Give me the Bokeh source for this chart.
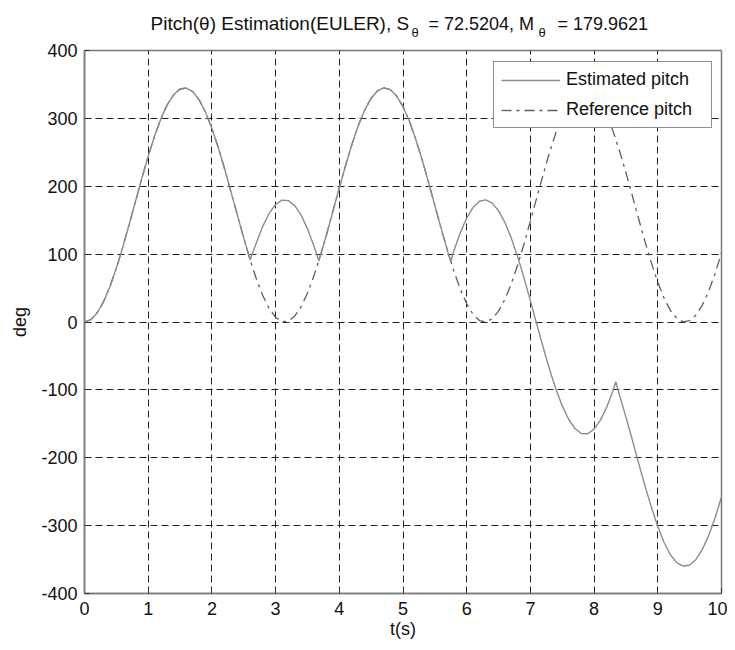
from bokeh.plotting import figure
from bokeh.layouts import column
from bokeh.models import Range1d, FixedTicker, Legend, LegendItem
from bokeh.core.properties import value
from bokeh.embed import file_html
from bokeh.resources import INLINE

# ---------------- data ----------------
x_ticks = [0, 1, 2, 3, 4, 5, 6, 7, 8, 9, 10]
y_ticks = [-400, -300, -200, -100, 0, 100, 200, 300, 400]

ref_t = [i / 10 for i in range(101)]
ref_v = [0, 3.4, 13.6, 30.1, 52.3, 79.3, 110.0, 143.2, 177.5, 211.7, 244.3, 274.0, 299.6, 320.3, 335.0,
         343.3, 344.7, 339.3, 327.3, 309.0, 285.3, 257.1, 225.5, 191.8, 157.5, 123.5, 91.7, 62.9, 38.7,
         19.7, 6.9, 0.5, 1.2, 8.5, 22.6, 42.4, 67.6, 96.8, 128.9, 163.2, 197.7, 231.2, 262.2, 289.8,
         312.4, 329.6, 340.7, 345.0, 342.4, 332.9, 317.2, 295.8, 269.3, 239.1, 206.0, 171.7, 137.5,
         104.7, 74.5, 48.3, 26.9, 11.2, 2.1, 0.0, 4.8, 16.0, 33.5, 56.4, 84.0, 114.9, 148.9, 183.2,
         217.2, 249.6, 278.7, 303.6, 323.3, 337.0, 344.3, 344.7, 337.8, 324.5, 305.0, 280.5, 251.9,
         219.9, 186.1, 151.8, 118.2, 86.9, 58.7, 34.8, 16.7, 5.2, 0.2, 1.9, 10.2, 25.0, 45.7, 71.6, 102.1]

est_t = [0.0, 0.1, 0.2, 0.3, 0.4, 0.5, 0.6, 0.7, 0.8, 0.9, 1.0, 1.1, 1.2, 1.3, 1.4, 1.5, 1.6, 1.7, 1.8,
         1.9, 2.0, 2.1, 2.2, 2.3, 2.4, 2.5, 2.6,
         2.7, 2.8, 2.9, 3.0, 3.1, 3.2, 3.3, 3.4, 3.5, 3.6, 3.68,
         3.7, 3.8, 3.9, 4.0, 4.1, 4.2, 4.3, 4.4, 4.5, 4.6, 4.7, 4.8, 4.9, 5.0, 5.1, 5.2, 5.3, 5.4, 5.5,
         5.6, 5.7, 5.75,
         5.8, 5.9, 6.0, 6.1, 6.2, 6.3, 6.4, 6.5, 6.6, 6.7, 6.8, 6.9, 7.0, 7.1, 7.2, 7.3, 7.4, 7.5, 7.6,
         7.7, 7.8, 7.9, 8.0, 8.1, 8.2, 8.3, 8.34,
         8.4, 8.5, 8.6, 8.7, 8.8, 8.9, 9.0, 9.1, 9.2, 9.3, 9.4, 9.5, 9.6, 9.7, 9.8, 9.9, 10.0]
est_v = [0, 3.4, 13.6, 30.1, 52.3, 79.3, 110.0, 143.2, 177.5, 211.7, 244.3, 274.0, 299.6, 320.3, 335.0,
         343.3, 344.7, 339.3, 327.3, 309.0, 285.3, 257.1, 225.5, 191.8, 157.5, 123.5, 91.7,
         117.1, 141.3, 160.3, 173.1, 179.5, 178.8, 171.5, 157.4, 137.6, 112.4, 90.0,
         96.8, 128.9, 163.2, 197.7, 231.2, 262.2, 289.8, 312.4, 329.6, 340.7, 345.0, 342.4, 332.9, 317.2,
         295.8, 269.3, 239.1, 206.0, 171.7, 137.5, 104.7, 89.0,
         105.5, 131.7, 153.1, 168.8, 177.9, 180.0, 175.2, 164.0, 146.5, 123.6, 96.0, 65.1, 31.1, -3.2,
         -37.2, -69.6, -98.7, -123.6, -143.3, -157.0, -164.3, -164.7, -157.8, -144.5, -125.0, -100.5, -88.0,
         -108.1, -140.1, -173.9, -208.2, -241.8, -273.1, -301.3, -325.2, -343.3, -354.8, -359.8, -358.1,
         -349.8, -335.0, -314.3, -288.4, -257.9]

series_names = ["Estimated pitch", "Reference pitch"]
title_first = "Pitch(\u03b8) Estimation(EULER), S"
title_rest = ["= 72.5204, M", "= 179.9621"]
title_sub = ["\u03b8", "\u03b8"]
x_label = "t(s)"
y_label = "deg"

FONT = "Liberation Sans"
TXT = "#111111"
W = 727
TITLE_H = 39
LEFT, RIGHT = 84, 6

# ---------------- title strip (x in page pixels, y in pixels from top) ----------------
pt = figure(width=W, height=TITLE_H, output_backend="svg", toolbar_location=None,
            x_range=Range1d(LEFT, W - RIGHT), y_range=Range1d(TITLE_H, 0),
            min_border_left=LEFT, min_border_right=RIGHT, min_border_top=0, min_border_bottom=0,
            outline_line_color=None, background_fill_color="white", border_fill_color="white")
pt.axis.visible = False
pt.grid.visible = False
pt.text(x=[150], y=[23], text=[title_first], text_font=value(FONT),
        text_font_size="19px", text_color=TXT, text_align="left", text_baseline="alphabetic")
pt.text(x=[428, 557], y=[23, 23], text=title_rest, text_font=value(FONT),
        text_font_size="18px", text_color=TXT, text_align="left", text_baseline="alphabetic")
pt.text(x=[411, 538], y=[31.5, 31.5], text=title_sub, text_font=value(FONT),
        text_font_size="13px", text_color=TXT, text_align="left", text_baseline="alphabetic")

# ---------------- main plot ----------------
p = figure(width=W, height=642 - TITLE_H, output_backend="svg", toolbar_location=None,
           x_range=Range1d(0, 10), y_range=Range1d(-400, 400),
           min_border_left=LEFT, min_border_right=RIGHT, min_border_top=50 - TITLE_H,
           min_border_bottom=49,
           background_fill_color="white", border_fill_color="white")
p.outline_line_color = "#7a7a7a"
p.outline_line_width = 1.5

for ax in (p.xaxis, p.yaxis):
    ax.axis_line_color = "#7a7a7a"
    ax.axis_line_width = 1.5
    ax.major_tick_in = 5
    ax.major_tick_out = 0
    ax.major_tick_line_color = "#333333"
    ax.minor_tick_line_color = None
    ax.major_label_text_font = FONT
    ax.major_label_text_font_size = "18px"
    ax.major_label_text_color = TXT
    ax.axis_label_text_font = FONT
    ax.axis_label_text_font_size = "18px"
    ax.axis_label_text_font_style = "normal"
    ax.axis_label_text_color = TXT

p.xaxis.ticker = FixedTicker(ticks=x_ticks)
p.yaxis.ticker = FixedTicker(ticks=y_ticks)
p.yaxis.major_label_overrides = {v: str(v) for v in y_ticks}
p.xaxis.major_label_standoff = 8
p.yaxis.major_label_standoff = 7
p.xaxis.axis_label = x_label
p.yaxis.axis_label = y_label
p.xaxis.axis_label_standoff = 1
p.yaxis.axis_label_standoff = 8

p.grid.grid_line_color = "#222222"
p.grid.grid_line_dash = "7 4"
p.grid.grid_line_width = 1
p.xgrid.ticker = FixedTicker(ticks=x_ticks)
p.ygrid.ticker = FixedTicker(ticks=y_ticks)

r_ref = p.line(ref_t, ref_v, line_color="#5e5e5e", line_width=1.3, line_dash="10 5 3 5")
r_est = p.line(est_t, est_v, line_color="#8c8c8c", line_width=1.4)

legend = Legend(items=[LegendItem(label=series_names[0], renderers=[r_est]),
                       LegendItem(label=series_names[1], renderers=[r_ref])],
                location=(409, 465), margin=0, padding=7, spacing=9,
                glyph_width=59, glyph_height=20, label_height=20, label_width=138,
                label_standoff=6,
                label_text_font=FONT, label_text_font_size="18px", label_text_color=TXT,
                border_line_color="#222222", border_line_width=1,
                background_fill_color="white", background_fill_alpha=1.0)
p.add_layout(legend, "center")

page = column(pt, p, spacing=0)
open("out.html", "w").write(file_html(page, INLINE))
